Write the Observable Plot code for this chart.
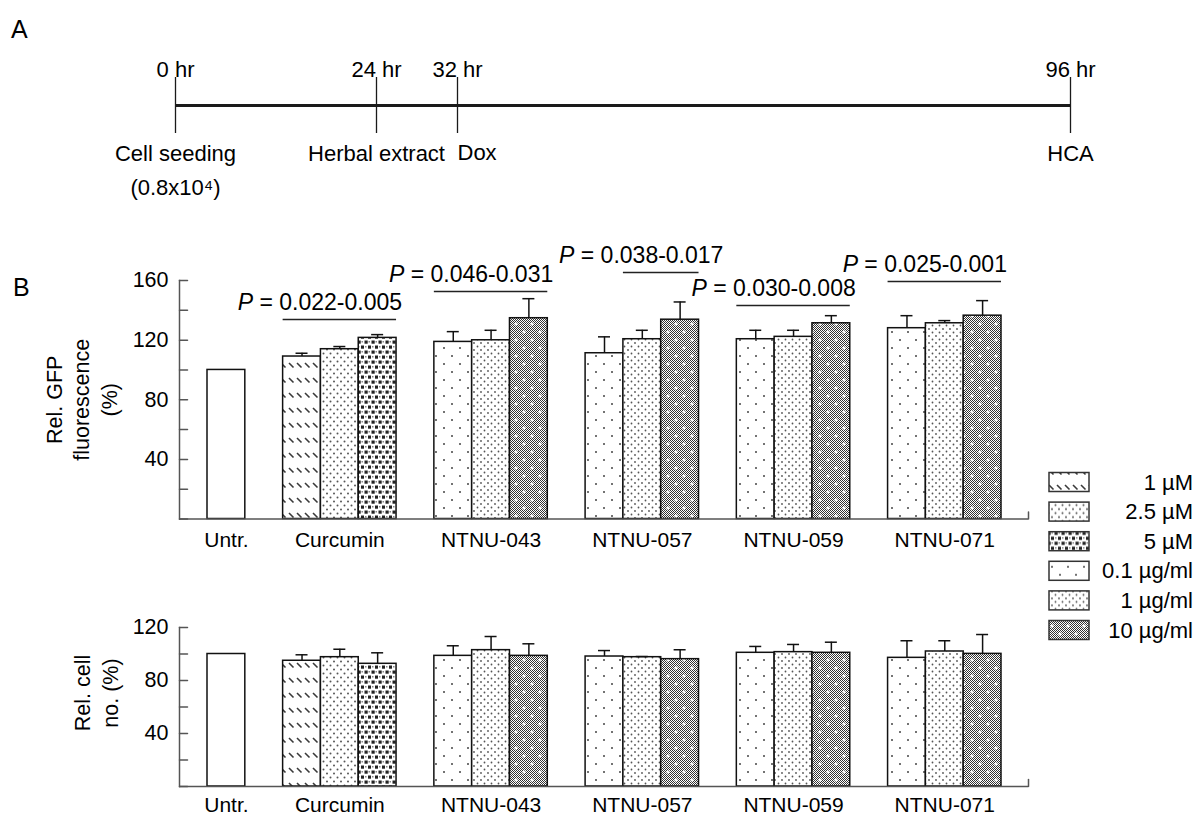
<!DOCTYPE html>
<html>
<head>
<meta charset="utf-8">
<script src="https://cdn.jsdelivr.net/npm/d3@7"></script>
<script src="https://cdn.jsdelivr.net/npm/@observablehq/plot@0.6"></script>
<style>
  body { margin: 0; background: #fff; }
  #fig { position: relative; width: 1198px; height: 816px; overflow: hidden; background: #fff;
         font-family: "Liberation Sans", Arial, Helvetica, sans-serif; color: #000; }
  #fig > * { position: absolute; }
  .panel-label { font-size: 25px; line-height: 25px; }
</style>
</head>
<body>
<div id="fig">
  <svg id="pattern-defs" width="0" height="0" style="left:0;top:0">
    <defs>
      <pattern id="pat-hatch" patternUnits="userSpaceOnUse" width="8" height="15">
        <rect width="8" height="15" fill="#fff"/>
        <path d="M1,3 L5.5,7.5" stroke="#3a3a3a" stroke-width="1.6"/>
      </pattern>
      <pattern id="pat-dots25" patternUnits="userSpaceOnUse" width="7" height="8">
        <rect width="7" height="8" fill="#fff"/>
        <circle cx="1.5" cy="1.5" r="1" fill="#555"/>
        <circle cx="5" cy="5.5" r="1" fill="#555"/>
      </pattern>
      <pattern id="pat-squares" patternUnits="userSpaceOnUse" width="7" height="10">
        <rect width="7" height="10" fill="#fff"/>
        <rect x="0.5" y="0.5" width="3.2" height="3.2" fill="#222"/>
        <rect x="4" y="5.5" width="3.2" height="3.2" fill="#222"/>
        <rect x="4.5" y="1" width="1.5" height="1.5" fill="#888"/>
        <rect x="1" y="6" width="1.5" height="1.5" fill="#888"/>
      </pattern>
      <pattern id="pat-sparse" patternUnits="userSpaceOnUse" width="16" height="16">
        <rect width="16" height="16" fill="#fff"/>
        <circle cx="4" cy="4" r="1" fill="#444"/>
        <circle cx="12" cy="12" r="1" fill="#444"/>
      </pattern>
      <pattern id="pat-dots1" patternUnits="userSpaceOnUse" width="7" height="7">
        <rect width="7" height="7" fill="#fff"/>
        <circle cx="1.5" cy="1.5" r="0.9" fill="#555"/>
        <circle cx="5" cy="5" r="0.9" fill="#555"/>
      </pattern>
      <pattern id="pat-checker" patternUnits="userSpaceOnUse" width="2" height="2">
        <rect width="2" height="2" fill="#fff"/>
        <rect width="1" height="1" fill="#333"/>
        <rect x="1" y="1" width="1" height="1" fill="#333"/>
      </pattern>
      <pattern id="pat-dense" patternUnits="userSpaceOnUse" width="16" height="16">
        <rect width="16" height="16" fill="url(#pat-checker)"/>
        <path d="M2.5,4H5.5M4,2.5V5.5M10.5,12H13.5M12,10.5V13.5" stroke="#fff" stroke-width="1.3"/>
      </pattern>
    </defs>
  </svg>
  <div class="panel-label" style="left:11px;top:17px">A</div>
  <div class="panel-label" style="left:13px;top:275px">B</div>
</div>
<script>
// ---------------- data ----------------
const groups = ["Untr.", "Curcumin", "NTNU-043", "NTNU-057", "NTNU-059", "NTNU-071"];
const untreatedDose = ["Untreated"];
const curcuminDoses = ["1 µM", "2.5 µM", "5 µM"];
const extractDoses = ["0.1 µg/ml", "1 µg/ml", "10 µg/ml"];

const gfpMean = [[100], [109.0, 113.9, 121.5], [118.8, 119.9, 134.7], [111.2, 120.6, 133.7], [120.6, 122.2, 131.3], [128.0, 131.3, 136.4]];
const gfpErr  = [[0], [2.2, 1.8, 2.2], [6.9, 6.7, 13.1], [11.0, 6.0, 11.9], [6.0, 4.4, 5.1], [8.4, 1.8, 10.1]];
const cellMean = [[100], [94.9, 97.6, 92.6], [98.6, 102.9, 98.6], [98.1, 97.6, 96.1], [100.9, 101.4, 100.9], [97.1, 101.9, 100.1]];
const cellErr  = [[0], [4.5, 6.0, 8.3], [7.6, 10.3, 9.1], [4.5, 0.5, 7.1], [4.8, 5.8, 8.0], [12.9, 8.1, 14.6]];

const pGroups = ["Curcumin", "NTNU-043", "NTNU-057", "NTNU-059", "NTNU-071"];
const pRanges = ["0.022-0.005", "0.046-0.031", "0.038-0.017", "0.030-0.008", "0.025-0.001"];
const pBracketY = [133.8, 152.6, 165.4, 143.2, 159.3];
const pFromDose = [0, 0, 1, 0, 0];

const gfpTicks = [0, 20, 40, 60, 80, 100, 120, 140, 160];
const gfpTickLabels = [40, 80, 120, 160];
const cellTicks = [0, 20, 40, 60, 80, 100, 120];
const cellTickLabels = [40, 80, 120];

const timeHours = [0, 24, 32, 96];
const timeTop = ["0 hr", "24 hr", "32 hr", "96 hr"];
const timeBottom = ["Cell seeding\n(0.8x10⁴)", "Herbal extract", "Dox", "HCA"];

const legendLabels = [...curcuminDoses, ...extractDoses];

// ---------------- styling ----------------
const FONT = '"Liberation Sans", Arial, Helvetica, sans-serif';
const patternFill = {
  "Untreated": "#ffffff",
  "1 µM": "url(#pat-hatch)",
  "2.5 µM": "url(#pat-dots25)",
  "5 µM": "url(#pat-squares)",
  "0.1 µg/ml": "url(#pat-sparse)",
  "1 µg/ml": "url(#pat-dots1)",
  "10 µg/ml": "url(#pat-dense)"
};
// the schematic timeline in the figure is not drawn to scale
const timelineRange = [175, 376, 457, 1070];
const stub = {draw(ctx, l) { ctx.moveTo(0, 0); ctx.lineTo(0, -l); }};
const fig = document.getElementById("fig");

// ---------------- build bar layout ----------------
const bars = [];
const groupPos = [];
let slot = 0;
groups.forEach((g, gi) => {
  const doses = gi === 0 ? untreatedDose : gi === 1 ? curcuminDoses : extractDoses;
  const start = slot;
  doses.forEach((dose, di) => {
    bars.push({group: g, dose, x1: slot, x2: slot + 1,
      gfp: gfpMean[gi][di], gfpErr: gfpErr[gi][di],
      cell: cellMean[gi][di], cellErr: cellErr[gi][di]});
    slot++;
  });
  groupPos.push({group: g, x: (start + slot) / 2, start, end: slot});
  slot++;
});
const nSlots = slot - 1;

const brackets = pGroups.map((g, i) => {
  const gp = groupPos[groups.indexOf(g)];
  const x1 = gp.start + pFromDose[i];
  const x2 = gp.end;
  return {x1, x2, tx: (x1 + x2) / 2, y: pBracketY[i], label: "P = " + pRanges[i]};
});

// ---------------- panel A: timeline ----------------
const events = timeHours.map((h, i) => ({h, top: timeTop[i], bottom: timeBottom[i], i}));
const timeline = Plot.plot({
  width: 1198, height: 210,
  marginLeft: 175, marginRight: 128, marginTop: 77, marginBottom: 77,
  x: {type: "linear", domain: timeHours, range: timelineRange, axis: null},
  y: {domain: [-1, 1], axis: null},
  style: {fontFamily: FONT, background: "transparent", overflow: "visible"},
  marks: [
    Plot.ruleY([0], {stroke: "#1a1a1a", strokeWidth: 3.2}),
    Plot.ruleX(timeHours, {stroke: "#1a1a1a", strokeWidth: 1.3}),
    Plot.text(events, {x: "h", text: "top", frameAnchor: "top", dy: -8, lineAnchor: "middle", fontSize: 22, fill: "#000"}),
    Plot.text(events.filter(e => e.i !== 2), {x: "h", text: "bottom", frameAnchor: "bottom", dy: 3, lineAnchor: "top", lineHeight: 1.55, fontSize: 22, fill: "#000"}),
    Plot.text(events.filter(e => e.i === 2), {x: "h", text: "bottom", frameAnchor: "bottom", dy: 11, lineAnchor: "top", textAnchor: "start", fontSize: 22, fill: "#000"})
  ]
});
timeline.style.left = "0px"; timeline.style.top = "0px";
fig.appendChild(timeline);

// ---------------- bar charts ----------------
function barChart({valueKey, errKey, yMax, ticks, tickLabels, title, top, height, marginTop, marginBottom, titleDx, titleDy, labelDy, extra = []}) {
  const W = 1198, frameLeft = 179, frameRight = 1028;
  const withErr = bars.filter(d => d[errKey] > 0);
  const chart = Plot.plot({
    width: W, height,
    marginLeft: frameLeft, marginRight: W - frameRight, marginTop, marginBottom,
    x: {domain: [0, nSlots], range: [207, 1001], axis: null},
    y: {domain: [0, yMax], axis: null},
    color: {type: "identity"},
    style: {fontFamily: FONT, background: "transparent", overflow: "visible"},
    marks: [
      Plot.rectY(bars, {x1: "x1", x2: "x2", y: valueKey, fill: d => patternFill[d.dose], stroke: "#111", strokeWidth: 1.5}),
      Plot.ruleX(withErr, {x: d => (d.x1 + d.x2) / 2, y1: valueKey, y2: d => d[valueKey] + d[errKey], stroke: "#111", strokeWidth: 1.5}),
      Plot.ruleY(withErr, {y: d => d[valueKey] + d[errKey], x1: d => (d.x1 + d.x2) / 2, x2: d => (d.x1 + d.x2) / 2, insetLeft: -6, insetRight: -6, stroke: "#111", strokeWidth: 1.5}),
      Plot.ruleY([0], {stroke: "#555", strokeWidth: 1.5}),
      Plot.frame({anchor: "left", stroke: "#555", strokeWidth: 1.5}),
      Plot.vector(ticks, {y: d => d, frameAnchor: "left", rotate: 90, length: 8, anchor: "start", shape: stub, stroke: "#555", strokeWidth: 1.5}),
      Plot.vector([0], {frameAnchor: "bottom-right", rotate: 0, length: 7, anchor: "start", shape: stub, stroke: "#555", strokeWidth: 1.5}),
      Plot.axisY(tickLabels, {tickSize: 0, tickPadding: 11, fontSize: 21.5, label: null, fill: "#000"}),
      Plot.text(groupPos, {x: "x", text: "group", frameAnchor: "bottom", dy: labelDy, lineAnchor: "middle", fontSize: 21, fill: "#000"}),
      Plot.text([title], {text: d => d, frameAnchor: "left", textAnchor: "middle", rotate: -90, dx: titleDx, dy: titleDy, lineAnchor: "middle", lineHeight: 1.29, fontSize: 21.5, fill: "#000"}),
      ...extra
    ]
  });
  chart.style.left = "0px"; chart.style.top = top + "px";
  fig.appendChild(chart);
  return chart;
}

const gfpChart = barChart({
  valueKey: "gfp", errKey: "gfpErr", yMax: 160, ticks: gfpTicks, tickLabels: gfpTickLabels,
  title: "Rel. GFP\nfluorescence\n(%)", top: 240, height: 320, marginTop: 40, marginBottom: 41.5,
  titleDx: -99, titleDy: 0, labelDy: 21.5,
  extra: [
    Plot.ruleY(brackets, {y: "y", x1: "x1", x2: "x2", stroke: "#222", strokeWidth: 1.5}),
    Plot.text(brackets, {x: "tx", y: "y", text: "label", dx: -20, dy: -17, lineAnchor: "middle", fontSize: 23, fill: "#000"})
  ]
});
// italic "P" in the significance labels
gfpChart.querySelectorAll("text").forEach(t => {
  const s = t.textContent;
  if (s.startsWith("P = ") && !t.querySelector("tspan")) {
    t.textContent = "";
    const ns = "http://www.w3.org/2000/svg";
    const p = document.createElementNS(ns, "tspan");
    p.setAttribute("font-style", "italic");
    p.textContent = "P";
    const rest = document.createElementNS(ns, "tspan");
    rest.textContent = " " + s.slice(2);
    t.appendChild(p); t.appendChild(rest);
  }
});

barChart({
  valueKey: "cell", errKey: "cellErr", yMax: 120, ticks: cellTicks, tickLabels: cellTickLabels,
  title: "Rel. cell\nno. (%)", top: 600, height: 216, marginTop: 27, marginBottom: 30,
  titleDx: -84.5, titleDy: -14, labelDy: 19
});

// ---------------- legend ----------------
const legend = d3.create("svg").attr("width", 158).attr("height", 190)
  .style("left", "1040px").style("top", "460px").style("font-family", FONT);
const rows = legend.selectAll("g").data(legendLabels).join("g")
  .attr("transform", (d, i) => `translate(0,${22 + i * 29.6})`);
rows.append("rect").attr("x", 9).attr("y", -9.5).attr("width", 40).attr("height", 19)
  .attr("fill", d => patternFill[d]).attr("stroke", "#333").attr("stroke-width", 1.5);
rows.append("text").attr("x", 153).attr("y", 0).attr("text-anchor", "end")
  .attr("dominant-baseline", "central").attr("font-size", 22).attr("fill", "#000").text(d => d);
fig.appendChild(legend.node());
</script>
</body>
</html>
